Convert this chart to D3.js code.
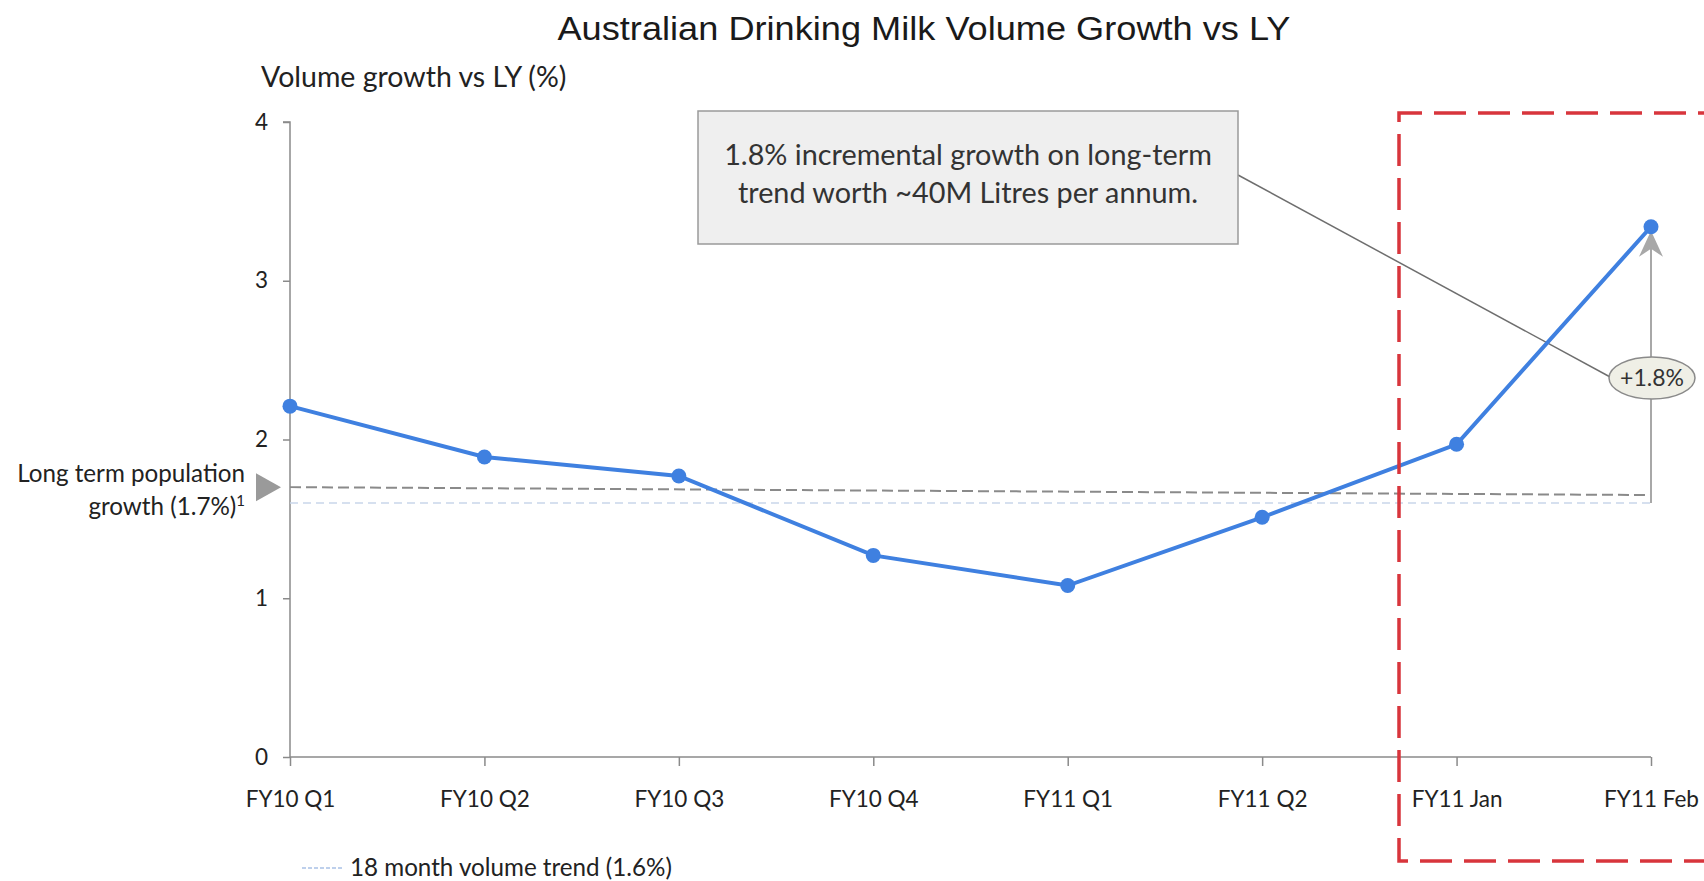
<!DOCTYPE html>
<html><head><meta charset="utf-8">
<script src="https://cdn.jsdelivr.net/npm/d3@7"></script>
<style>
html,body{margin:0;padding:0;background:#fff;}
svg{display:block;}
</style></head>
<body>
<svg id="chart" width="1704" height="881"></svg>
<script>
const categories = ["FY10 Q1","FY10 Q2","FY10 Q3","FY10 Q4","FY11 Q1","FY11 Q2","FY11 Jan","FY11 Feb"];
const growthValues = [2.21, 1.89, 1.77, 1.27, 1.08, 1.51, 1.97, 3.34];
const yTicks = [0, 1, 2, 3, 4];
const populationGrowth = [1.70, 1.65];   // left end, right end of dashed line as seen
const trend18Month = [1.60, 1.60];
const incrementalGrowth = 1.8;
const title = "Australian Drinking Milk Volume Growth vs LY";
const yAxisTitle = "Volume growth vs LY (%)";
const calloutLines = ["1.8% incremental growth on long-term", "trend worth ~40M Litres per annum."];
const popLabel = ["Long term population", "growth (1.7%)"];
const legendLabel = "18 month volume trend (1.6%)";

const font = "Lato, 'Open Sans', sans-serif";
const svg = d3.select("#chart");

const x = d3.scalePoint().domain(categories).range([290, 1651]);
const y = d3.scaleLinear().domain([0, 4]).range([757, 122]);

// Title
svg.append("text").attr("x", 924).attr("y", 40).attr("text-anchor", "middle")
  .attr("font-family", "'Liberation Sans', Arial, sans-serif").attr("font-size", 34)
  .attr("textLength", 733).attr("lengthAdjust", "spacingAndGlyphs")
  .attr("fill", "#1a1a1a").text(title);

// Y axis title
svg.append("text").attr("x", 261).attr("y", 87).attr("font-family", font).attr("font-size", 28.5)
  .attr("fill", "#222").text(yAxisTitle);

// Axes
const yAxis = d3.axisLeft(y).tickValues(yTicks).tickSize(7).tickPadding(15).tickFormat(d3.format("d"));
const gy = svg.append("g").attr("transform", `translate(${x(categories[0])},0)`).call(yAxis);
gy.select(".domain").attr("stroke", "#8a8a8a").attr("stroke-width", 1.5).attr("d", `M-7,${y(4)}H0V${y(0)}`);
gy.selectAll(".tick line").attr("stroke", "#8a8a8a").attr("stroke-width", 1.5);
gy.selectAll(".tick text").attr("font-family", font).attr("font-size", 22.5).attr("fill", "#222");

const xAxis = d3.axisBottom(x).tickSize(9).tickPadding(25);
const gx = svg.append("g").attr("transform", `translate(0,${y(0)})`).call(xAxis);
gx.select(".domain").attr("stroke", "#8a8a8a").attr("stroke-width", 1.5).attr("d", `M${x(categories[0])},0H${x(categories[categories.length-1])}`);
gx.selectAll(".tick line").attr("stroke", "#8a8a8a").attr("stroke-width", 1.5);
gx.selectAll(".tick text").attr("font-family", font).attr("font-size", 22.5).attr("fill", "#222");

// 18 month trend (faint light blue dashed)
const xl = x(categories[0]), xr = x(categories[categories.length-1]);
svg.append("line").attr("x1", xl).attr("x2", xr).attr("y1", y(trend18Month[0])).attr("y2", y(trend18Month[1]))
  .attr("stroke", "#c9d6ea").attr("stroke-width", 1.5).attr("stroke-dasharray", "8,5");

// Long term population dashed line
svg.append("line").attr("x1", xl).attr("x2", xr).attr("y1", y(populationGrowth[0])).attr("y2", y(populationGrowth[1]))
  .attr("stroke", "#8a8a8a").attr("stroke-width", 2).attr("stroke-dasharray", "11,5");

// Triangle marker
const ty = y(populationGrowth[0]);
svg.append("path").attr("d", `M256,${ty-14}L281,${ty}L256,${ty+14}Z`).attr("fill", "#9a9a9a");

// Pop label
svg.append("text").attr("x", 245).attr("y", ty - 5).attr("text-anchor", "end")
  .attr("font-family", font).attr("font-size", 24.2).attr("fill", "#222").text(popLabel[0]);
const pl2 = svg.append("text").attr("x", 245).attr("y", ty + 28).attr("text-anchor", "end")
  .attr("font-family", font).attr("font-size", 24.2).attr("fill", "#222");
pl2.append("tspan").text(popLabel[1]);
pl2.append("tspan").attr("font-size", 15).attr("dy", -9).text("1");

// Vertical arrow for incremental growth
const xf = x(categories[categories.length-1]);
svg.append("line").attr("x1", xf).attr("x2", xf).attr("y1", y(trend18Month[1])).attr("y2", y(growthValues[7]) + 12)
  .attr("stroke", "#a8a8a8").attr("stroke-width", 2);
const tipY = y(growthValues[7]) + 4;
svg.append("path").attr("d", `M${xf},${tipY}L${xf+12},${tipY+26}L${xf},${tipY+18}L${xf-12},${tipY+26}Z`).attr("fill", "#a8a8a8");

// Connector line callout -> ellipse
svg.append("line").attr("x1", 1238).attr("y1", 175).attr("x2", 1612).attr("y2", 378)
  .attr("stroke", "#6e6e6e").attr("stroke-width", 1.5);

// Blue line
const line = d3.line().x((d, i) => x(categories[i])).y(d => y(d));
svg.append("path").datum(growthValues).attr("d", line).attr("fill", "none")
  .attr("stroke", "#3f80e0").attr("stroke-width", 4);
svg.selectAll("circle.pt").data(growthValues).enter().append("circle").attr("class", "pt")
  .attr("cx", (d, i) => x(categories[i])).attr("cy", d => y(d)).attr("r", 7.5).attr("fill", "#3f80e0");

// Ellipse label
svg.append("ellipse").attr("cx", 1652).attr("cy", 378).attr("rx", 43).attr("ry", 21)
  .attr("fill", "#efefe6").attr("stroke", "#8a8a8a").attr("stroke-width", 1.5);
svg.append("text").attr("x", 1652).attr("y", 386).attr("text-anchor", "middle")
  .attr("font-family", font).attr("font-size", 23).attr("fill", "#333").text("+" + incrementalGrowth + "%");

// Callout box
svg.append("rect").attr("x", 698).attr("y", 111).attr("width", 540).attr("height", 133)
  .attr("fill", "#efefef").attr("stroke", "#9a9a9a").attr("stroke-width", 1.5);
calloutLines.forEach((t, i) => {
  svg.append("text").attr("x", 968).attr("y", 165 + i * 38).attr("text-anchor", "middle")
    .attr("font-family", font).attr("font-size", 28.8).attr("fill", "#333").text(t);
});

// Red dashed highlight
svg.append("path").attr("d", "M1730,113H1399V861H1730").attr("fill", "none")
  .attr("stroke", "#d8353c").attr("stroke-width", 3.5).attr("stroke-dasharray", "32,12");

// Legend
svg.append("line").attr("x1", 302).attr("x2", 343).attr("y1", 868).attr("y2", 868)
  .attr("stroke", "#a9c1e6").attr("stroke-width", 1.5).attr("stroke-dasharray", "4,2");
svg.append("text").attr("x", 350).attr("y", 876).attr("font-family", font).attr("font-size", 24.2)
  .attr("fill", "#222").text(legendLabel);
</script>
</body></html>
